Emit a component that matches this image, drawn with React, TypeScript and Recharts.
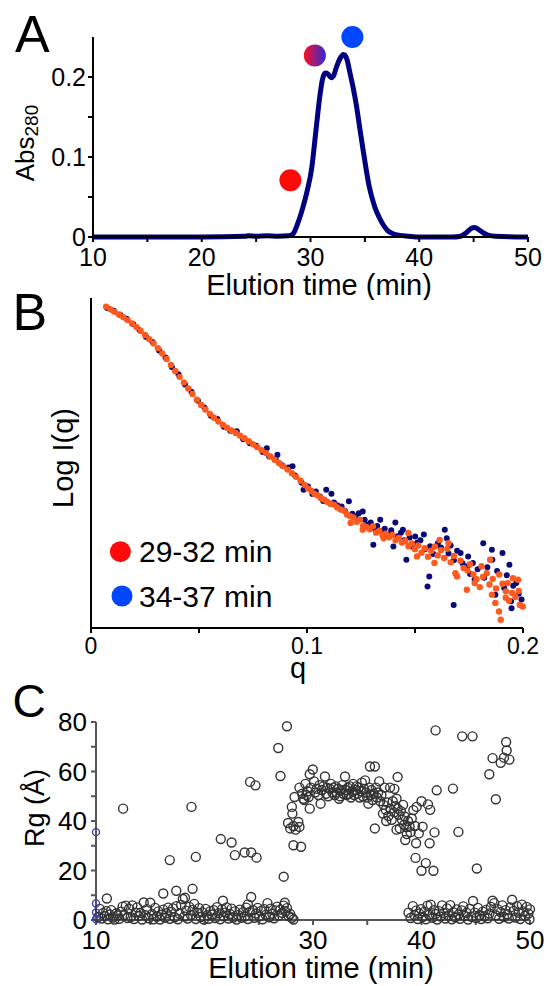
import { ComposedChart, Line, Scatter, ScatterChart, XAxis, YAxis, Legend } from "recharts";

const FONT = "'Liberation Sans', Arial, Helvetica, sans-serif";

// ---- Panel A: SEC trace (elution time, min / Abs280)
const traceTime = [10, 20, 24.0, 24.3, 25, 26, 27, 28.0, 28.4, 28.8, 29.3, 29.7, 30.1, 30.5, 30.85, 31.1, 31.35, 31.6, 31.9, 32.1, 32.4, 32.75, 33.05, 33.35, 33.6, 33.9, 34.2, 34.5, 34.8, 35.1, 35.4, 35.7, 35.95, 36.3, 36.7, 37.1, 37.6, 38.2, 39, 40, 43, 43.8, 44.3, 44.8, 45.1, 45.5, 45.9, 46.4, 47, 50];
const traceAbs = [0, 0, 0.001, 0.0015, 0.001, 0.0015, 0.001, 0.0015, 0.004, 0.016, 0.037, 0.058, 0.085, 0.133, 0.175, 0.197, 0.205, 0.204, 0.199, 0.201, 0.213, 0.224, 0.228, 0.222, 0.207, 0.188, 0.166, 0.139, 0.112, 0.086, 0.063, 0.047, 0.036, 0.025, 0.015, 0.008, 0.004, 0.002, 0.001, 0, 0, 0.001, 0.005, 0.011, 0.012, 0.009, 0.005, 0.002, 0.001, 0];
const markerTime = [28.15, 30.4, 33.85];
const markerAbs = [0.071, 0.227, 0.25];
const markerFill = ["#ff0a0a", "url(#midDot)", "#0047ff"];
const timeTicks = [10, 15, 20, 25, 30, 35, 40, 45, 50];
const absTicks = [0, 0.05, 0.1, 0.15, 0.2];

// ---- Panel B: scattering curves (q, log I in arbitrary units)
const early: [number, number][] = [
  [0.007, 97.4], [0.009, 96.6], [0.011, 95.8], [0.013, 95.0], [0.015, 94.2], [0.017, 93.3], [0.019, 92.3], [0.021, 91.2], [0.023, 90.0], [0.025, 88.8],
  [0.027, 87.5], [0.029, 86.2], [0.031, 84.8], [0.033, 83.2], [0.035, 81.5], [0.037, 79.7], [0.039, 77.9], [0.041, 76.1], [0.043, 74.4], [0.045, 72.6],
  [0.047, 70.9], [0.049, 69.2], [0.051, 67.6], [0.053, 66.2], [0.055, 64.9], [0.057, 63.7], [0.059, 62.6], [0.061, 61.6], [0.063, 60.7], [0.065, 59.9],
  [0.067, 59.1], [0.069, 58.3], [0.071, 57.5], [0.073, 56.6], [0.075, 55.7], [0.077, 54.8], [0.079, 53.9], [0.081, 53.0], [0.083, 52.0], [0.085, 51.0],
  [0.087, 50.0], [0.089, 49.0], [0.091, 48.0], [0.093, 46.9], [0.095, 45.8], [0.097, 44.6], [0.099, 43.3],
  [0.1005, 42.3], [0.102, 41.5], [0.1035, 40.6], [0.105, 40.2], [0.1065, 39.3], [0.108, 38.9], [0.1095, 38.2], [0.111, 37.6], [0.1125, 37.4], [0.114, 36.5],
  [0.1155, 35.9], [0.117, 35.6], [0.1185, 34.4], [0.12, 33.9], [0.1202, 31.8], [0.1215, 33.5], [0.123, 32.2], [0.1245, 32.8], [0.126, 31.0], [0.1258, 29.8],
  [0.1275, 30.6], [0.129, 29.9], [0.1305, 30.8], [0.132, 28.9], [0.1335, 29.4], [0.135, 28.1], [0.1355, 27.2], [0.1365, 28.6], [0.138, 27.5], [0.1395, 28.2],
  [0.141, 26.6], [0.1425, 27.3], [0.144, 25.9], [0.1455, 26.4], [0.1469, 28.8], [0.147, 24.8], [0.1485, 25.6], [0.15, 23.9], [0.1509, 21.7], [0.1515, 25.0],
  [0.153, 22.8], [0.1545, 24.2], [0.156, 21.6], [0.1575, 23.4], [0.159, 19.7], [0.1592, 24.7], [0.1605, 22.0], [0.1614, 26.7], [0.162, 23.6], [0.1635, 21.2],
  [0.1655, 25.7], [0.165, 24.0], [0.1665, 19.9], [0.1687, 16.6], [0.168, 21.8], [0.1695, 15.6], [0.171, 20.4], [0.1725, 18.2], [0.174, 11.6], [0.1743, 17.4],
  [0.1755, 19.3], [0.1776, 13.6], [0.177, 16.2], [0.1785, 14.8], [0.1808, 18.7], [0.18, 12.4], [0.1832, 16.6], [0.1815, 15.5], [0.1848, 20.7], [0.1856, 10.1],
  [0.1845, 13.2], [0.1872, 7.6], [0.186, 14.9], [0.1889, 5.0], [0.1897, 2.5], [0.1875, 12.0], [0.189, 16.2], [0.1905, 13.4], [0.1921, 11.1], [0.1929, 13.6],
  [0.192, 9.2], [0.1935, 8.3], [0.1953, 15.1], [0.195, 10.6], [0.1965, 9.4], [0.1977, 14.6], [0.1985, 7.0], [0.198, 11.2], [0.1999, 6.5],
];
const late: [number, number][] = [
  [0.0075, 97.0], [0.0105, 96.1], [0.0135, 94.9], [0.0165, 93.7], [0.0195, 92.1], [0.0225, 90.2], [0.0255, 88.2], [0.0285, 86.7], [0.0315, 84.1], [0.0345, 82.0],
  [0.0375, 79.0], [0.0405, 76.9], [0.0435, 73.8], [0.0465, 71.6], [0.0495, 68.9], [0.0525, 66.8], [0.0555, 64.3], [0.0585, 63.3], [0.0615, 61.0], [0.0645, 59.8],
  [0.0675, 59.6], [0.0705, 57.2], [0.0735, 56.0], [0.0765, 55.2], [0.0795, 53.3], [0.0814, 54.5], [0.0825, 52.0], [0.0855, 51.2], [0.0863, 52.5], [0.0885, 49.3],
  [0.0915, 48.6], [0.0933, 49.0], [0.0945, 46.2], [0.0975, 44.0], [0.0984, 41.9],
  [0.1005, 42.9], [0.1025, 40.6], [0.1041, 41.4], [0.106, 39.8], [0.1075, 38.5], [0.1089, 41.9], [0.1113, 40.7], [0.1125, 38.0], [0.114, 37.2], [0.116, 36.8],
  [0.1175, 35.5], [0.1194, 38.4], [0.121, 34.6], [0.1225, 33.8], [0.124, 34.8], [0.1258, 35.3], [0.1267, 32.8], [0.128, 31.3], [0.1295, 32.0], [0.1307, 25.2],
  [0.131, 30.2], [0.1325, 30.9], [0.1339, 32.8], [0.1345, 29.5], [0.136, 30.1], [0.1375, 28.4], [0.139, 29.6], [0.14, 24.7], [0.1409, 32.0], [0.142, 27.8],
  [0.1435, 28.9], [0.1444, 29.8], [0.145, 26.6], [0.146, 20.7], [0.1475, 27.4], [0.1485, 24.7], [0.1501, 27.7], [0.151, 25.8], [0.1525, 26.6], [0.1541, 28.3],
  [0.1545, 23.9], [0.1558, 12.6], [0.1566, 15.6], [0.157, 24.8], [0.1585, 22.4], [0.1606, 25.7], [0.162, 24.4], [0.1638, 29.8], [0.1647, 27.2], [0.1655, 22.6],
  [0.1665, 25.0], [0.1679, 7.0], [0.168, 20.5], [0.1695, 23.4], [0.1711, 22.7], [0.172, 19.6], [0.1743, 18.7], [0.1746, 21.7], [0.1755, 16.4], [0.1768, 19.7],
  [0.1776, 14.6], [0.179, 17.8], [0.1816, 25.7], [0.182, 15.2], [0.1835, 18.4], [0.1856, 23.7], [0.1858, 20.7], [0.1872, 10.1], [0.188, 17.3], [0.1905, 22.7],
  [0.1913, 12.1], [0.1925, 16.0], [0.1937, 19.2], [0.1945, 8.1], [0.1947, 6.0], [0.1955, 12.8], [0.1969, 13.6], [0.198, 10.4], [0.1993, 8.6],
];
const qTicks = [0, 0.05, 0.1, 0.15, 0.2];

// ---- Panel C: Rg per frame (elution time, min / Rg, Å)
const rgFrames: [number, number][] = [
  [10.2, 1.2], [10.35, 4.5], [10.5, 0.6], [10.65, 2.8], [10.8, 1.5], [10.95, 3.6], [11.1, 0.3], [11.25, 2.2], [11.4, 4.0], [11.55, 1.0], [11.7, 0.2], [11.85, 2.6],
  [12.0, 1.8], [12.15, 0.5], [12.3, 3.4], [12.45, 5.4], [12.6, 2.0], [12.75, 5.8], [12.9, 0.8], [13.05, 4.6], [13.2, 1.2], [13.35, 5.9], [13.5, 0.4], [13.65, 3.0],
  [13.8, 5.1], [13.95, 1.6], [14.1, 2.9], [14.25, 0.2], [14.4, 7.1], [14.55, 1.9], [14.7, 4.4], [14.85, 0.7], [15.0, 7.0], [15.15, 2.4], [15.3, 0.3], [15.45, 4.9],
  [15.6, 1.3], [15.75, 3.5], [15.9, 0.2], [16.05, 2.1], [16.2, 4.2], [16.35, 0.9], [16.5, 2.7], [16.65, 5.0], [16.8, 0.5], [16.95, 3.3], [17.1, 4.7], [17.25, 1.1],
  [17.4, 5.6], [17.55, 0.3], [17.7, 2.5], [17.85, 6.1], [18.0, 8.5], [18.15, 1.4], [18.3, 3.8], [18.45, 0.6], [18.6, 5.3], [18.75, 2.0], [18.9, 4.1], [19.05, 6.5],
  [19.2, 0.4], [19.35, 2.9], [19.5, 4.8], [19.65, 1.2], [19.8, 3.1], [19.95, 0.2], [20.1, 4.5], [20.25, 1.9], [20.4, 0.5], [20.55, 3.6], [20.7, 2.2], [20.85, 4.0],
  [21.0, 0.8], [21.15, 5.2], [21.3, 2.7], [21.45, 0.3], [21.6, 4.3], [21.75, 1.5], [21.9, 3.0], [22.05, 5.1], [22.2, 0.6], [22.35, 2.4], [22.5, 4.6], [22.65, 1.0],
  [22.8, 3.5], [22.95, 0.2], [23.1, 2.0], [23.25, 4.2], [23.4, 0.9], [23.55, 3.2], [23.7, 1.4], [23.85, 5.0], [24.0, 0.4], [24.15, 3.3], [24.45, 4.0], [24.6, 0.9],
  [24.75, 2.6], [24.9, 4.9], [25.05, 1.5], [25.2, 3.7], [25.35, 0.3], [25.5, 4.4], [25.65, 2.1], [25.8, 6.8], [25.95, 1.1], [26.1, 4.6], [26.25, 2.5], [26.4, 0.7],
  [26.55, 3.9], [26.7, 5.4], [26.85, 1.8], [27.0, 4.2], [27.15, 2.9], [27.3, 5.8], [27.45, 3.5], [27.6, 4.8], [27.75, 1.6], [27.9, 2.4], [28.05, 0.9], [28.2, 0.2],
  [11.0, 8.7], [12.5, 45], [16.2, 10.7], [16.8, 24.2], [17.4, 11.8], [18.2, 9], [18.8, 45.7], [18.9, 12.6], [19.2, 25.5], [21.5, 32.7], [21.7, 7.8], [22.5, 31.3],
  [22.8, 26.2], [23.7, 27.3], [24.3, 27.3], [24.8, 25.2], [24.2, 55.8], [24.7, 54.4], [24.3, 9.3], [24.0, 6.3], [26.8, 69.5], [27.0, 58.2], [27.6, 78.3], [27.3, 17.5],
  [27.4, 7], [27.7, 39.2], [27.9, 37.0], [28.05, 45.7], [28.1, 43], [28.2, 38], [28.2, 30.2], [28.3, 49.7], [28.4, 36.5], [28.65, 39.6], [28.75, 37.6], [28.75, 53.5],
  [28.9, 29.6], [29.0, 51], [29.1, 49], [29.2, 48.5], [29.3, 55], [29.4, 50.5], [29.5, 52], [29.6, 49.7], [29.7, 45], [29.7, 58.9], [29.8, 53.5], [29.98, 60.8],
  [30.1, 56], [30.2, 51.5], [30.35, 53], [30.5, 50.5], [30.6, 54.5], [30.7, 47], [30.8, 52.5], [30.95, 54], [31.1, 58], [31.2, 51], [31.3, 53.5], [31.4, 50],
  [31.55, 53], [31.65, 55], [31.8, 51.5], [31.9, 53.5], [32.0, 50.5], [32.1, 54], [32.2, 51.5], [32.3, 53], [32.4, 49], [32.5, 50], [32.6, 52.5], [32.7, 54.5],
  [32.8, 51], [32.95, 58], [33.0, 52.5], [33.1, 50.5], [33.2, 53.5], [33.3, 51], [33.4, 54], [33.5, 49.5], [33.6, 52], [33.7, 55], [33.8, 50.5], [33.9, 52.5],
  [34.0, 54], [34.1, 51], [34.2, 53.5], [34.3, 49.5], [34.4, 52], [34.5, 55.5], [34.6, 50], [34.7, 53], [34.8, 56.4], [34.9, 51.5], [35.0, 49.5], [35.1, 47],
  [35.2, 53.5], [35.25, 62], [35.3, 50.5], [35.4, 52.5], [35.5, 48.5], [35.6, 51], [35.7, 62], [35.7, 37], [35.8, 53.5], [35.9, 49.5], [36.0, 51.5], [36.1, 56],
  [36.2, 48], [36.3, 50.5], [36.45, 43], [36.5, 46.5], [36.6, 53.5], [36.7, 44.5], [36.75, 40], [36.85, 47.5], [36.95, 42], [37.1, 53.5], [37.15, 45], [37.25, 40.5],
  [37.35, 48], [37.5, 53], [37.5, 43.5], [37.6, 46], [37.7, 49], [37.7, 36.5], [37.8, 57.8], [37.8, 45], [37.9, 42.5], [38.0, 37], [38.1, 44], [38.2, 40.5],
  [38.3, 46.5], [38.4, 38.5], [38.45, 41.8], [38.5, 32.3], [38.6, 37.5], [38.65, 34.7], [38.75, 40], [38.9, 37.7], [39.0, 35.5], [39.1, 41], [39.25, 44.4], [39.4, 38],
  [39.45, 25.1], [39.5, 31], [39.55, 45.7], [39.75, 35], [40.0, 48], [40.0, 19.9], [40.1, 37.7], [40.4, 23], [40.6, 46.7], [40.75, 31], [40.8, 44.5], [41.1, 19.9],
  [41.2, 35.4], [41.3, 76.6], [41.4, 52.4], [42.9, 53.1], [43.4, 35.6], [43.75, 74.2], [44.7, 74.2], [45.1, 20.8], [46.25, 58.9], [46.55, 65.4], [46.85, 48.8], [47.3, 63.5],
  [47.6, 65.6], [47.8, 71.9], [47.85, 68.5], [48.1, 64.8],
  [38.8, 3.0], [39.0, 0.8], [39.2, 5.6], [39.35, 1.9], [39.5, 3.8], [39.65, 0.4], [39.8, 2.6], [39.95, 4.4], [40.1, 1.2], [40.25, 3.3], [40.4, 0.3], [40.55, 5.8],
  [40.7, 2.1], [40.85, 6.2], [41.0, 0.9], [41.15, 4.0], [41.3, 2.4], [41.45, 0.2], [41.6, 3.6], [41.75, 1.4], [41.9, 5.9], [42.05, 2.8], [42.2, 0.6], [42.35, 4.7],
  [42.5, 1.8], [42.65, 6.0], [42.8, 0.3], [42.95, 3.1], [43.1, 1.1], [43.25, 4.3], [43.4, 2.2], [43.55, 0.5], [43.7, 3.9], [43.85, 5.5], [44.0, 1.6], [44.15, 2.9],
  [44.3, 0.2], [44.45, 4.5], [44.6, 1.3], [44.75, 7.7], [44.9, 3.0], [45.05, 0.8], [45.2, 4.9], [45.35, 2.0], [45.5, 0.4], [45.65, 3.4], [45.8, 1.5], [45.95, 4.1],
  [46.1, 0.7], [46.25, 2.6], [46.4, 5.3], [46.55, 7.8], [46.7, 6.8], [46.85, 1.9], [47.0, 4.4], [47.15, 0.5], [47.3, 3.2], [47.45, 5.9], [47.6, 1.2], [47.75, 4.0],
  [47.9, 2.3], [48.05, 0.6], [48.2, 5.1], [48.35, 8.2], [48.5, 3.7], [48.65, 1.0], [48.8, 5.6], [48.95, 2.9], [49.1, 0.4], [49.25, 6.2], [49.4, 3.5], [49.55, 1.7],
  [49.7, 5.3], [49.85, 2.6], [49.95, 0.3], [50.0, 4.3],
];
const rgFirstFrames: [number, number][] = [[10, 35.5], [10, 6.7], [10, 3.0], [10, 0.3]];
const rgTicks = [0, 10, 20, 30, 40, 50, 60, 70, 80];

const traceData = traceTime.map((t, i) => ({ t, v: traceAbs[i] }));
const markerData = markerTime.map((t, i) => ({ t, v: markerAbs[i], fill: markerFill[i] }));
const earlyData = early.map(([q, v]) => ({ q, v }));
const lateData = late.map(([q, v]) => ({ q, v }));
const rgData = rgFrames.map(([t, rg]) => ({ t, rg }));
const rgFirstData = rgFirstFrames.map(([t, rg]) => ({ t, rg }));

const every10 = (v: number) => (v % 10 === 0 ? String(v) : "");
const tenths = (v: number) => (Math.abs(v * 10 - Math.round(v * 10)) < 1e-6 ? String(v) : "");
const every20 = (v: number) => (v % 20 === 0 ? String(v) : "");

// axis title drawn at a fixed spot; the props Recharts hands to label content are ignored
const title = (x: number, y: number, content: any, size = 29, rotate = false) => () => (
  <text
    x={x}
    y={y}
    textAnchor="middle"
    fontSize={size}
    fontFamily={FONT}
    fill="#000"
    transform={rotate ? `rotate(-90 ${x} ${y})` : undefined}
  >
    {content}
  </text>
);

const dot = (r: number) => (p: any) => <circle cx={p.cx} cy={p.cy} r={r} fill={p.fill} />;
const ring = (r: number, color: string) => (p: any) => (
  <circle cx={p.cx} cy={p.cy} r={r} fill="none" stroke={color} strokeWidth={1.4} />
);

function LegendBox() {
  return (
    <svg width={200} height={90} style={{ overflow: "visible" }}>
      <circle cx={22.4} cy={16.7} r={10.5} fill="#ff0a0a" />
      <text x={41} y={26.7} fontSize={30} fontFamily={FONT} fill="#000">29-32 min</text>
      <circle cx={24} cy={61} r={10.5} fill="#0047ff" />
      <text x={41} y={71.7} fontSize={30} fontFamily={FONT} fill="#000">34-37 min</text>
    </svg>
  );
}

export default function App() {
  const black = { stroke: "#000", strokeWidth: 2 };
  const grey = { stroke: "#555", strokeWidth: 2 };
  return (
    <div style={{ position: "absolute", left: 0, top: 0, width: 547, height: 986, background: "#fff" }}>
      <div style={{ position: "absolute", left: 0, top: 0 }}>
        <ComposedChart width={547} height={300} margin={{ top: 37, right: 19, bottom: 0, left: 0 }}>
          <defs>
            <linearGradient id="midDot" x1="0" y1="0" x2="1" y2="0">
              <stop offset="0" stopColor="#ff1020" />
              <stop offset="1" stopColor="#2a2ae0" />
            </linearGradient>
          </defs>
          <XAxis
            type="number"
            dataKey="t"
            domain={[10, 50]}
            ticks={timeTicks}
            tickFormatter={every10}
            height={63}
            tickSize={5}
            tickMargin={6}
            axisLine={black}
            tickLine={black}
            tick={{ fill: "#000", fontSize: 25, fontFamily: FONT }}
            label={title(319, 295, "Elution time (min)")}
          />
          <YAxis
            type="number"
            dataKey="v"
            domain={[0, 0.25]}
            ticks={absTicks}
            tickFormatter={tenths}
            width={93}
            tickSize={5}
            tickMargin={2}
            axisLine={black}
            tickLine={black}
            tick={{ fill: "#000", fontSize: 25, fontFamily: FONT }}
            label={title(33.5, 143, <>Abs<tspan fontSize={19} dy={4}>280</tspan></>, 26, true)}
          />
          <Line data={traceData} dataKey="v" type="monotone" stroke="#000080" strokeWidth={5} dot={false} isAnimationActive={false} />
          <Scatter data={markerData} shape={dot(11)} isAnimationActive={false} />
        </ComposedChart>
      </div>

      <div style={{ position: "absolute", left: 0, top: 280 }}>
        <ScatterChart width={547} height={406} margin={{ top: 18, right: 24, bottom: 0, left: 0 }}>
          <XAxis
            type="number"
            dataKey="q"
            domain={[0, 0.2]}
            ticks={qTicks}
            tickFormatter={tenths}
            height={58}
            tickSize={5}
            tickMargin={5}
            axisLine={black}
            tickLine={black}
            tick={{ fill: "#000", fontSize: 23, fontFamily: FONT }}
            label={title(298, 398, "q")}
          />
          <YAxis
            type="number"
            dataKey="v"
            domain={[0, 100]}
            width={91}
            tick={false}
            tickLine={false}
            axisLine={black}
            label={title(73, 178, "Log I(q)", 29, true)}
          />
          <Scatter data={lateData} fill="#0a0a78" shape={dot(3)} isAnimationActive={false} />
          <Scatter data={earlyData} fill="#ff5a1e" shape={dot(3.2)} isAnimationActive={false} />
          <Legend
            layout="vertical"
            align="center"
            verticalAlign="middle"
            content={() => <LegendBox />}
            wrapperStyle={{ left: 98, top: 255, width: 200, height: 90 }}
          />
        </ScatterChart>
      </div>

      <div style={{ position: "absolute", left: 0, top: 690 }}>
        <ScatterChart width={547} height={296} margin={{ top: 32, right: 17, bottom: 0, left: 0 }}>
          <XAxis
            type="number"
            dataKey="t"
            domain={[10, 50]}
            ticks={timeTicks}
            tickFormatter={every10}
            height={66}
            tickSize={5}
            tickMargin={6}
            axisLine={grey}
            tickLine={grey}
            tick={{ fill: "#000", fontSize: 26, fontFamily: FONT }}
            label={title(321, 288, "Elution time (min)")}
          />
          <YAxis
            type="number"
            dataKey="rg"
            domain={[0, 80]}
            ticks={rgTicks}
            tickFormatter={every20}
            width={96}
            tickSize={5}
            tickMargin={4}
            axisLine={grey}
            tickLine={grey}
            tick={{ fill: "#000", fontSize: 26, fontFamily: FONT }}
            label={title(44, 118, "Rg (Å)", 27, true)}
          />
          <Scatter data={rgData} shape={ring(4.5, "#333")} isAnimationActive={false} />
          <Scatter data={rgFirstData} shape={ring(3.5, "#3c3cb0")} isAnimationActive={false} />
        </ScatterChart>
      </div>

      <svg width={547} height={986} style={{ position: "absolute", left: 0, top: 0, pointerEvents: "none" }}>
        <text x={15} y={52} fontSize={52} fontFamily={FONT} fill="#000">A</text>
        <text x={12.5} y={330} fontSize={52} fontFamily={FONT} fill="#000">B</text>
        <text x={12.5} y={717} fontSize={46} fontFamily={FONT} fill="#000">C</text>
      </svg>
    </div>
  );
}
